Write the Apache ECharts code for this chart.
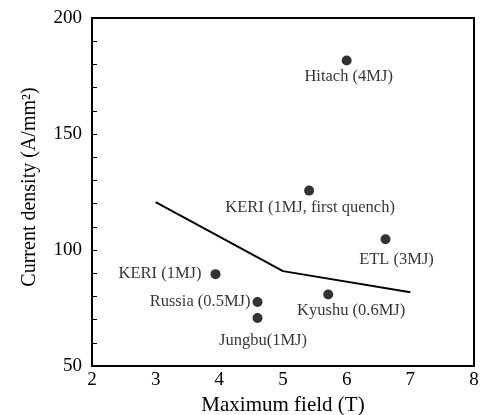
<!DOCTYPE html>
<html><head><meta charset="utf-8">
<script src="https://cdn.jsdelivr.net/npm/echarts@6/dist/echarts.min.js"></script>
<style>html,body{margin:0;padding:0;background:#fff}#c{width:484px;height:415px}</style>
</head><body><div id="c"></div>
<script>
const pointNames = ['Hitach (4MJ)','KERI (1MJ, first quench)','ETL (3MJ)','KERI (1MJ)','Russia (0.5MJ)','Jungbu(1MJ)','Kyushu (0.6MJ)'];
const pointField = [6.0, 5.41, 6.61, 3.94, 4.6, 4.6, 5.71];
const pointDensity = [181.7, 125.6, 104.6, 89.6, 77.6, 70.7, 80.8];
const lineField = [3, 5, 7];
const lineDensity = [120.6, 90.9, 81.8];
const xTicks = [2, 3, 4, 5, 6, 7, 8];
const yTicks = [50, 100, 150, 200];

// label layout (style only)
const labelLayout = {
  'Hitach (4MJ)': {position:'bottom', offset:[2,-2.3]},
  'KERI (1MJ, first quench)': {position:'bottom', offset:[1,-1.3]},
  'ETL (3MJ)': {position:'bottom', offset:[11,1.6]},
  'KERI (1MJ)': {position:'left', offset:[-4,0]},
  'Russia (0.5MJ)': {position:'left', offset:[3,0]},
  'Jungbu(1MJ)': {position:'bottom', offset:[5.5,4.3]},
  'Kyushu (0.6MJ)': {position:'bottom', offset:[23,-2.8]}
};
const font = 'Liberation Serif';
const scatterData = pointNames.map((n,i)=>({
  name:n, value:[pointField[i], pointDensity[i]],
  label: Object.assign({show:true, formatter:'{b}', color:'#000', fontFamily:font, fontSize:16.5}, labelLayout[n])
}));
const chart = echarts.init(document.getElementById('c'));
chart.setOption({
  animation:false,
  grid:{left:92, right:10, top:18, bottom:49, containLabel:false, outerBoundsMode:'none',
    show:true, borderColor:'#000', borderWidth:2, backgroundColor:'transparent'},
  xAxis:{type:'value', min:xTicks[0], max:xTicks[xTicks.length-1], interval:1,
    name:'Maximum field (T)', nameLocation:'middle', nameGap:29,
    nameTextStyle:{fontFamily:font, fontSize:21, color:'#000'},
    axisLine:{show:true, onZero:false, lineStyle:{color:'#000', width:2}},
    axisTick:{show:false},
    splitLine:{show:false},
    axisLabel:{fontFamily:font, fontSize:19, color:'#000', margin:5}},
  yAxis:{type:'value', min:yTicks[0], max:yTicks[yTicks.length-1], interval:50,
    name:'Current density (A/mm²)', nameLocation:'middle', nameGap:52,
    nameTextStyle:{fontFamily:font, fontSize:20, color:'#000', padding:[0,0,0,10]},
    axisLine:{show:true, onZero:false, lineStyle:{color:'#000', width:2}},
    axisTick:{show:true, inside:true, length:5, lineStyle:{color:'#000'}},
    minorTick:{show:true, splitNumber:5, length:5, lineStyle:{color:'#000'}},
    splitLine:{show:false},
    axisLabel:{fontFamily:font, fontSize:19, color:'#000', margin:10}},
  series:[
    {type:'line', data:lineField.map((x,i)=>[x, lineDensity[i]]), symbol:'none',
     lineStyle:{color:'#000', width:2}, z:2},
    {type:'scatter', data:scatterData, symbol:'circle', symbolSize:10,
     itemStyle:{color:'#000'}, z:3}
  ]
});
</script></body></html>
